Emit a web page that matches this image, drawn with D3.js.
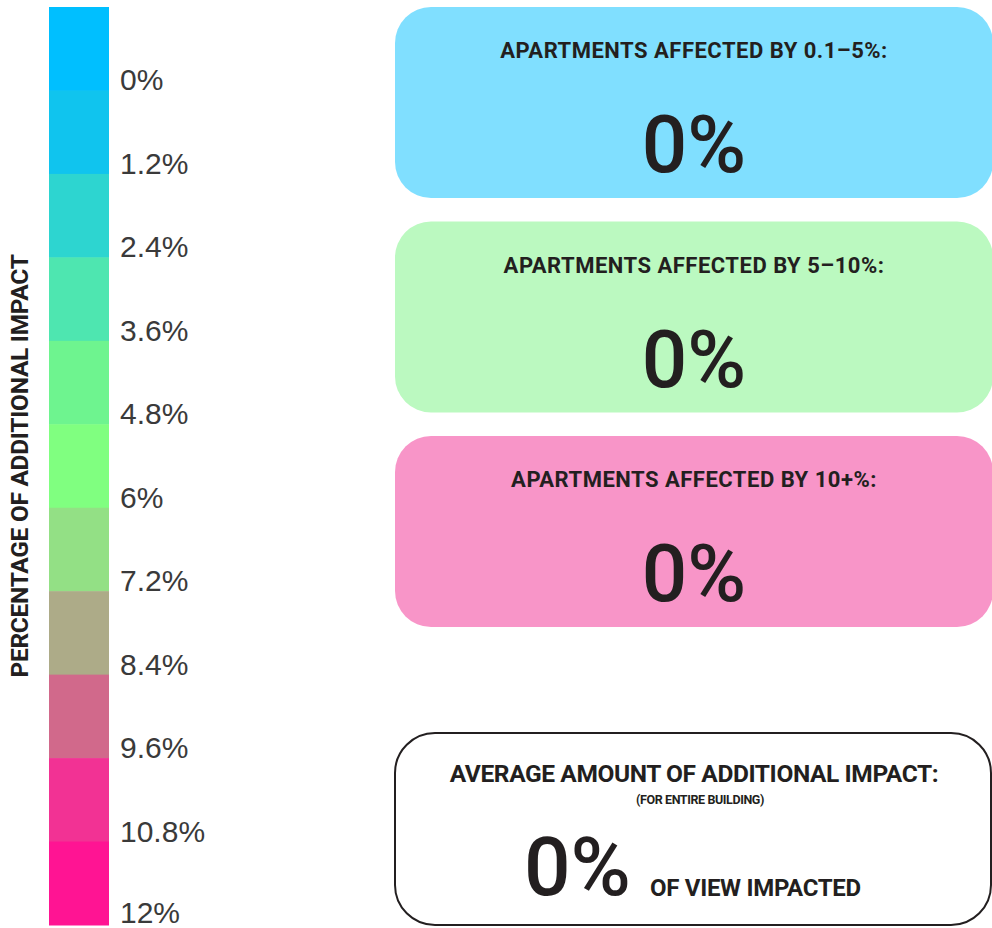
<!DOCTYPE html>
<html>
<head>
<meta charset="utf-8">
<script src="https://cdn.jsdelivr.net/npm/d3@7"></script>
<style>
  body { margin: 0; background: #fff; }
  svg { display: block; }
</style>
</head>
<body>
<div id="chart"></div>
<script>
// Impact legend + summary boxes
const legendLabels = ["0%", "1.2%", "2.4%", "3.6%", "4.8%", "6%", "7.2%", "8.4%", "9.6%", "10.8%", "12%"];
const legendColors = ["#00bfff", "#10c4ee", "#2dd5d0", "#4ee6b0", "#6ef48f", "#80ff80", "#93e085", "#adab88", "#d1698b", "#f23294", "#ff1493"];

const boxTitles = ["APARTMENTS AFFECTED BY 0.1–5%:", "APARTMENTS AFFECTED BY 5–10%:", "APARTMENTS AFFECTED BY 10+%:"];
const boxValues = [0, 0, 0];
const boxColors = ["#80dfff", "#bbf9c0", "#f895c8"];

const avgTitle = "AVERAGE AMOUNT OF ADDITIONAL IMPACT:";
const avgSub = "(FOR ENTIRE BUILDING)";
const avgValue = 0;
const avgUnit = "OF VIEW IMPACTED";

const W = 992, H = 928;
const svg = d3.select("#chart").append("svg")
  .attr("width", W)
  .attr("height", H);

const fmt = v => d3.format("d")(v) + "%";
const ink = "#231f20";

// Legend bar
const legendY = d3.scaleBand()
  .domain(d3.range(legendLabels.length))
  .range([7, 925])
  .padding(0);

const legend = svg.append("g");

legend.selectAll("rect")
  .data(legendColors)
  .join("rect")
  .attr("x", 49)
  .attr("y", (d, i) => legendY(i))
  .attr("width", 60)
  .attr("height", legendY.bandwidth() + 0.5)
  .attr("fill", d => d);

legend.selectAll("text")
  .data(legendLabels)
  .join("text")
  .attr("x", 120)
  .attr("y", (d, i) => Math.min(legendY(i) + legendY.bandwidth(), 923))
  .attr("font-family", "Liberation Sans, Arial, sans-serif")
  .attr("font-size", 30)
  .attr("fill", "#3a3a3a")
  .text(d => d);

// Axis title
svg.append("text")
  .attr("transform", "translate(28,466) rotate(-90)")
  .attr("text-anchor", "middle")
  .attr("font-family", "Roboto, sans-serif")
  .attr("font-weight", 700)
  .attr("font-size", 24.5)
  .attr("letter-spacing", -0.3)
  .attr("fill", ink)
  .text("PERCENTAGE OF ADDITIONAL IMPACT");

// Summary boxes
const boxX = 395, boxW = 598, cx = boxX + boxW / 2;
const boxY = d3.scaleBand()
  .domain(d3.range(boxTitles.length))
  .range([7, 627])
  .paddingInner(0.11);

const boxes = svg.selectAll("g.box")
  .data(boxTitles)
  .join("g")
  .attr("class", "box")
  .attr("transform", (d, i) => `translate(0,${boxY(i)})`);

boxes.append("rect")
  .attr("x", boxX)
  .attr("width", boxW)
  .attr("height", boxY.bandwidth())
  .attr("rx", 36)
  .attr("fill", (d, i) => boxColors[i]);

boxes.append("text")
  .attr("x", cx)
  .attr("y", 51)
  .attr("text-anchor", "middle")
  .attr("font-family", "Roboto, sans-serif")
  .attr("font-weight", 700)
  .attr("font-size", 22)
  .attr("letter-spacing", 0.5)
  .attr("fill", ink)
  .text(d => d);

boxes.append("text")
  .attr("x", cx)
  .attr("y", 165)
  .attr("text-anchor", "middle")
  .attr("font-family", "Roboto, sans-serif")
  .attr("font-weight", 500)
  .attr("font-size", 80)
  .attr("fill", ink)
  .text((d, i) => fmt(boxValues[i]));

// Average box
const avg = svg.append("g");
avg.append("rect")
  .attr("x", boxX)
  .attr("y", 733)
  .attr("width", boxW - 2)
  .attr("height", 192)
  .attr("rx", 40)
  .attr("fill", "#fff")
  .attr("stroke", ink)
  .attr("stroke-width", 2);

avg.append("text")
  .attr("x", cx)
  .attr("y", 782)
  .attr("text-anchor", "middle")
  .attr("font-family", "Roboto, sans-serif")
  .attr("font-weight", 700)
  .attr("font-size", 24.5)
  .attr("letter-spacing", -0.4)
  .attr("fill", ink)
  .text(avgTitle);

avg.append("text")
  .attr("x", cx + 6)
  .attr("y", 804)
  .attr("text-anchor", "middle")
  .attr("font-family", "Roboto, sans-serif")
  .attr("font-weight", 700)
  .attr("font-size", 12.5)
  .attr("letter-spacing", -0.4)
  .attr("fill", ink)
  .text(avgSub);

avg.append("text")
  .attr("x", 524)
  .attr("y", 895)
  .attr("font-family", "Roboto, sans-serif")
  .attr("font-weight", 500)
  .attr("font-size", 82)
  .attr("fill", ink)
  .text(fmt(avgValue));

avg.append("text")
  .attr("x", 650)
  .attr("y", 896)
  .attr("font-family", "Roboto, sans-serif")
  .attr("font-weight", 700)
  .attr("font-size", 24)
  .attr("letter-spacing", -0.3)
  .attr("fill", ink)
  .text(avgUnit);
</script>
</body>
</html>
